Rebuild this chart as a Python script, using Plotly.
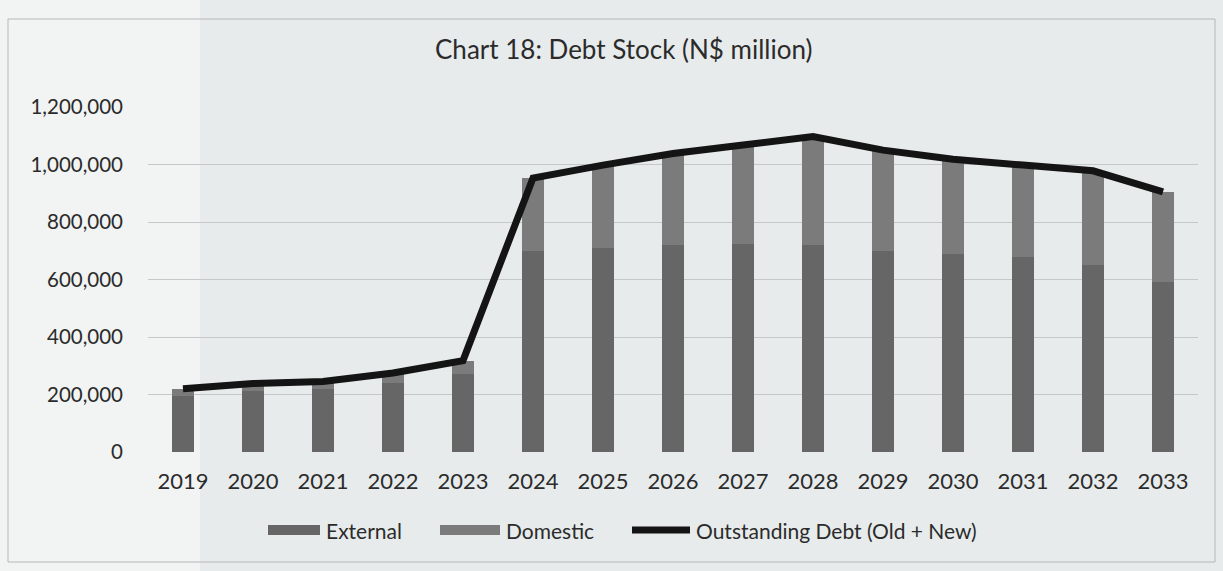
import plotly.graph_objects as go

# Debt stock by year, N$ million
years = ["2019", "2020", "2021", "2022", "2023", "2024", "2025", "2026",
         "2027", "2028", "2029", "2030", "2031", "2032", "2033"]
external = [195000, 212000, 218000, 240000, 270000, 700000, 710000, 720000,
            725000, 720000, 700000, 690000, 680000, 650000, 590000]
domestic = [25000, 26000, 27000, 35000, 48000, 253000, 288000, 318000,
            343000, 377000, 350000, 328000, 318000, 328000, 315000]
outstanding = [220000, 238000, 245000, 275000, 318000, 953000, 998000, 1038000,
               1068000, 1097000, 1050000, 1018000, 998000, 978000, 905000]
y_ticks = [0, 200000, 400000, 600000, 800000, 1000000, 1200000]

W, H = 1223, 571
L, R, T, B = 148, 25, 107, 119
pw, ph = W - L - R, H - T - B

def px(x):
    return (x - L) / pw

def py(y):
    return (H - B - y) / ph

FONT = "Lato, 'Open Sans', sans-serif"
INK = "#2b2b2b"
EXT_COLOR = "#666666"
DOM_COLOR = "#7b7b7b"
LINE_COLOR = "#141414"

fig = go.Figure()
fig.add_trace(go.Bar(x=years, y=external, name="External",
                     marker=dict(color=EXT_COLOR, line=dict(width=0))))
fig.add_trace(go.Bar(x=years, y=domestic, name="Domestic",
                     marker=dict(color=DOM_COLOR, line=dict(width=0))))
fig.add_trace(go.Scatter(x=years, y=outstanding, name="Outstanding Debt (Old + New)",
                         mode="lines", line=dict(color=LINE_COLOR, width=7)))

# legend row drawn with wide swatches under the plot
legend_y = 530
legend_items = [
    ("External", "bar", EXT_COLOR, 268, 320),
    ("Domestic", "bar", DOM_COLOR, 440, 500),
    ("Outstanding Debt (Old + New)", "line", LINE_COLOR, 632, 690),
]
shapes = [
    # lighter strip on the left of the page
    dict(type="rect", xref="paper", yref="paper",
         x0=px(0), x1=px(200), y0=py(H), y1=py(0),
         fillcolor="#f2f4f3", line=dict(width=0), layer="below"),
    # chart frame
    dict(type="rect", xref="paper", yref="paper",
         x0=px(8), x1=px(1215), y0=py(562), y1=py(19),
         line=dict(color="#b4b8b8", width=1), fillcolor="rgba(0,0,0,0)",
         layer="below"),
]
annotations = []
for label, kind, color, x0, x1 in legend_items:
    if kind == "bar":
        shapes.append(dict(type="rect", xref="paper", yref="paper",
                           x0=px(x0), x1=px(x1), y0=py(legend_y + 5), y1=py(legend_y - 5),
                           fillcolor=color, line=dict(width=0)))
    else:
        shapes.append(dict(type="line", xref="paper", yref="paper",
                           x0=px(x0), x1=px(x1), y0=py(legend_y), y1=py(legend_y),
                           line=dict(color=color, width=7)))
    annotations.append(dict(text=label, xref="paper", yref="paper",
                            x=px(x1 + 4), y=py(legend_y), xanchor="left", yanchor="middle",
                            showarrow=False, font=dict(size=21, color=INK)))

fig.update_layout(
    width=W, height=H,
    margin=dict(l=L, r=R, t=T, b=B),
    paper_bgcolor="#e7ebeb",
    plot_bgcolor="rgba(0,0,0,0)",
    barmode="stack",
    bargap=0.68,
    showlegend=False,
    font=dict(family=FONT, color=INK, size=21),
    title=dict(text="Chart 18: Debt Stock (N$ million)", x=0.51, xanchor="center",
               y=1 - 50 / H, yanchor="middle",
               font=dict(family=FONT, size=26, color=INK)),
    xaxis=dict(showgrid=False, showline=False, ticks="", tickfont=dict(size=22),
               ticklabelstandoff=14),
    yaxis=dict(range=[0, 1200000], tickvals=y_ticks, tickformat=",d",
               showgrid=True, gridcolor="#c3c8c8", gridwidth=1,
               zeroline=False, showline=False, ticks="",
               tickfont=dict(size=20.5), ticklabelstandoff=24),
    shapes=shapes,
    annotations=annotations,
)

fig.write_html("out.html")
